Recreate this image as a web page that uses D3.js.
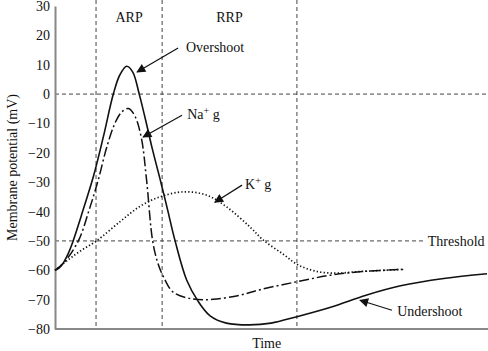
<!DOCTYPE html>
<html>
<head>
<meta charset="utf-8">
<script src="https://cdn.jsdelivr.net/npm/d3@7"></script>
<style>
  body { margin: 0; background: #fff; }
  svg text { font-family: "Liberation Serif", "Times New Roman", serif; fill: #111; }
</style>
</head>
<body>
<div id="chart"></div>
<script>
// time in arbitrary units, potential in mV
const membranePotential = [
    [0, -60], [0.1, -59.2], [0.2, -57.3], [0.3, -54.5], [0.42, -50], [0.65, -39.5],
    [0.89, -28], [1.12, -14.5], [1.35, 0], [1.5, 6.5], [1.66, 9.5], [1.8, 7.5],
    [1.95, 0], [2.1, -9], [2.25, -18.5], [2.45, -30], [2.6, -39], [2.78, -50],
    [3.05, -63.4], [3.31, -70.5], [3.59, -75.5], [3.97, -78], [4.5, -78.6],
    [5.0, -78], [5.6, -75.8], [6.4, -72.5], [7.2, -68.5], [8.0, -65.3],
    [9.0, -62.8], [10, -61.2]
];
const naConductance = [
    [0, -60], [0.2, -57.5], [0.54, -50], [0.8, -39], [1.0, -29.3], [1.2, -18],
    [1.4, -9.5], [1.55, -6], [1.7, -4.9], [1.85, -7.5], [2.0, -15], [2.12, -29.3],
    [2.26, -50], [2.38, -57.5], [2.51, -62.2], [2.74, -67.5], [3.2, -69.8],
    [3.66, -69.9], [4.28, -68.5], [4.75, -66.6], [5.6, -63.9], [6.37, -61.7],
    [7.14, -60.4], [8.06, -59.7]
];
const kConductance = [
    [0, -60], [0.3, -56.5], [0.6, -53.3], [0.96, -50], [1.5, -43.5], [1.97, -38.2],
    [2.43, -35], [2.97, -33.3], [3.51, -34.4], [3.97, -38.4], [4.51, -45.2],
    [4.82, -49.7], [5.28, -54.5], [5.63, -58.2], [6.06, -60.4], [6.52, -61],
    [6.98, -60.5], [8.06, -59.7]
];
const yTicks = [30, 20, 10, 0, -10, -20, -30, -40, -50, -60, -70, -80];
const periodBounds = [0.95, 2.48, 5.6];
const periodLabels = ["ARP", "RRP"];
const thresholdValue = -50;
const thresholdEnd = 8.56;

const width = 488;
const height = 351;
const margin = { top: 6, right: 1, bottom: 22, left: 55 };

const x = d3.scaleLinear().domain([0, 10]).range([margin.left, width - margin.right]);
const y = d3.scaleLinear().domain([-80, 30]).range([height - margin.bottom, margin.top]);

const svg = d3.select("#chart")
    .append("svg")
    .attr("width", width)
    .attr("height", height);

// arrowhead
svg.append("defs")
    .append("marker")
    .attr("id", "head")
    .attr("viewBox", "0 0 10 10")
    .attr("refX", 9)
    .attr("refY", 5)
    .attr("markerWidth", 11)
    .attr("markerHeight", 9)
    .attr("markerUnits", "userSpaceOnUse")
    .attr("orient", "auto")
    .append("path")
    .attr("d", "M0,0 L10,5 L0,10 Z")
    .attr("fill", "#111");

// dashed reference lines
const guides = svg.append("g")
    .attr("stroke", "#444")
    .attr("stroke-width", 1)
    .attr("stroke-dasharray", "4,3");

guides.selectAll("line.v")
    .data(periodBounds)
    .enter()
    .append("line")
    .attr("class", "v")
    .attr("x1", (d) => x(d))
    .attr("x2", (d) => x(d))
    .attr("y1", 0)
    .attr("y2", y(-80));

guides.append("line")
    .attr("x1", x(0))
    .attr("x2", width)
    .attr("y1", y(0))
    .attr("y2", y(0));

guides.append("line")
    .attr("x1", x(0))
    .attr("x2", x(thresholdEnd))
    .attr("y1", y(thresholdValue))
    .attr("y2", y(thresholdValue));

// axes
const yAxis = svg.append("g")
    .attr("transform", `translate(${margin.left},0)`)
    .call(d3.axisLeft(y).tickValues(yTicks).tickSize(0).tickPadding(5));
yAxis.select(".domain").attr("stroke", "#888").attr("stroke-width", 2);
yAxis.selectAll("text")
    .style("font-family", '"Liberation Serif", serif')
    .style("font-size", "14px")
    .attr("fill", "#111");

svg.append("line")
    .attr("x1", x(0))
    .attr("x2", width)
    .attr("y1", y(-80))
    .attr("y2", y(-80))
    .attr("stroke", "#888")
    .attr("stroke-width", 2);

// curves
const line = d3.line()
    .x((d) => x(d[0]))
    .y((d) => y(d[1]))
    .curve(d3.curveCatmullRom.alpha(0.5));

svg.append("path")
    .datum(kConductance)
    .attr("d", line)
    .attr("fill", "none")
    .attr("stroke", "#111")
    .attr("stroke-width", 1.7)
    .attr("stroke-dasharray", "1.3,2.2");

svg.append("path")
    .datum(naConductance)
    .attr("d", line)
    .attr("fill", "none")
    .attr("stroke", "#111")
    .attr("stroke-width", 1.5)
    .attr("stroke-dasharray", "10,3,2,3");

svg.append("path")
    .datum(membranePotential)
    .attr("d", line)
    .attr("fill", "none")
    .attr("stroke", "#111")
    .attr("stroke-width", 1.6);

// period labels
svg.selectAll("text.period")
    .data(periodLabels)
    .enter()
    .append("text")
    .attr("class", "period")
    .attr("x", (d, i) => x((periodBounds[i] + periodBounds[i + 1]) / 2))
    .attr("y", y(24.5))
    .attr("text-anchor", "middle")
    .style("font-size", "14px")
    .text((d) => d);

// annotations with arrows (data coordinates)
const notes = [
    { label: "Overshoot", tx: 3.03, tv: 14.3, from: [2.85, 15.7], to: [1.9, 7.5] },
    { label: "Na", sup: "+", rest: " g", tx: 3.06, tv: -8.5, from: [2.94, -7.2], to: [2.04, -14.6] },
    { label: "K", sup: "+", rest: " g", tx: 4.4, tv: -32.4, from: [4.33, -31], to: [3.7, -36.8] },
    { label: "Undershoot", tx: 7.92, tv: -75.6, from: [7.8, -73.6], to: [7.06, -70.2] }
];

notes.forEach((n) => {
    svg.append("line")
        .attr("x1", x(n.from[0]))
        .attr("y1", y(n.from[1]))
        .attr("x2", x(n.to[0]))
        .attr("y2", y(n.to[1]))
        .attr("stroke", "#111")
        .attr("stroke-width", 1.2)
        .attr("marker-end", "url(#head)");

    const t = svg.append("text")
        .attr("x", x(n.tx))
        .attr("y", y(n.tv))
        .style("font-size", "14px");
    t.append("tspan").text(n.label);
    if (n.sup) {
        t.append("tspan").attr("dy", -5).style("font-size", "10px").text(n.sup);
        t.append("tspan").attr("dy", 5).text(n.rest);
    }
});

svg.append("text")
    .attr("x", x(8.63))
    .attr("y", y(thresholdValue))
    .attr("dy", "0.35em")
    .style("font-size", "14px")
    .text("Threshold");

// axis titles
svg.append("text")
    .attr("x", x(4.9))
    .attr("y", 348)
    .attr("text-anchor", "middle")
    .style("font-size", "14px")
    .text("Time");

svg.append("text")
    .attr("transform", `translate(17,${y(-25)}) rotate(-90)`)
    .attr("text-anchor", "middle")
    .style("font-size", "14px")
    .text("Membrane potential (mV)");
</script>
</body>
</html>
